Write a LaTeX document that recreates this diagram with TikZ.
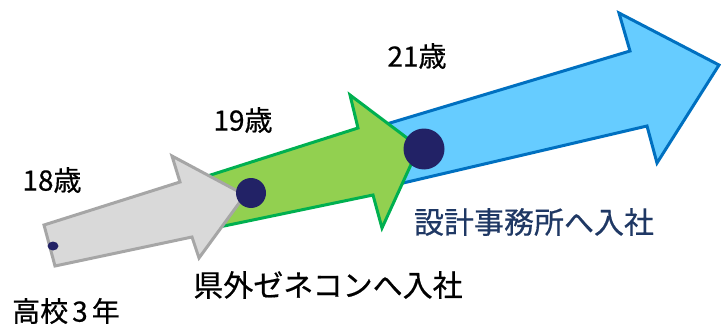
\documentclass[tikz,border=0pt]{standalone}
\usepackage{fontspec}
\setmainfont[FakeBold=0.5]{Noto Sans CJK JP}
\definecolor{grayfill}{HTML}{D9D9D9}
\definecolor{graydraw}{HTML}{A6A6A6}
\definecolor{greenfill}{HTML}{92D050}
\definecolor{greendraw}{HTML}{00B050}
\definecolor{bluefill}{HTML}{66CCFF}
\definecolor{bluedraw}{HTML}{0070C0}
\definecolor{dotnavy}{HTML}{222266}
\definecolor{textnavy}{HTML}{1F3864}
\tikzset{
  arrowshape/.style={line width=3pt, line join=miter},
  dotstyle/.style={fill=dotnavy, draw=none},
  agelabel/.style={inner sep=0pt, font=\fontsize{28}{32}\selectfont},
  biglabel/.style={inner sep=0pt, font=\fontsize{30}{34}\selectfont},
}
\begin{document}
\begin{tikzpicture}[x=1pt,y=-1pt]
\useasboundingbox (0,0) rectangle (721,329);
% blue arrow
\draw[arrowshape, fill=bluefill, draw=bluedraw]
  (380,126) -- (630,51) -- (619,13) -- (719,65) -- (657,163) -- (647,126) -- (380,188.4) -- cycle;
% green arrow
\draw[arrowshape, fill=greenfill, draw=greendraw]
  (200,178.4) -- (358,128) -- (350,95) -- (419,147) -- (382,228) -- (373,195) -- (200,231) -- cycle;
% gray arrow
\draw[arrowshape, fill=grayfill, draw=graydraw]
  (44,225) -- (180,182) -- (172,156) -- (245,195) -- (199,258) -- (192,237) -- (55,266) -- cycle;
% dots
\fill[dotstyle] (53,246) ellipse [x radius=5.5, y radius=4.5];
\fill[dotstyle] (251,193) circle [radius=15];
\fill[dotstyle] (424,149) circle [radius=20.5];
% labels
\node[agelabel] (a18) at (52,180) {18歳};
\node[agelabel] (a19) at (243,120) {19歳};
\node[agelabel] (a21) at (417,56) {21歳};
\node[inner sep=0pt, font=\fontsize{28}{32}\selectfont] (hs) at (66,311) {高校\hspace{4pt}3\hspace{4pt}年};
\node[biglabel] (gen) at (328,285) {県外ゼネコンへ入社};
\node[biglabel, text=textnavy] (sek) at (534,222) {設計事務所へ入社};
\end{tikzpicture}
\end{document}
